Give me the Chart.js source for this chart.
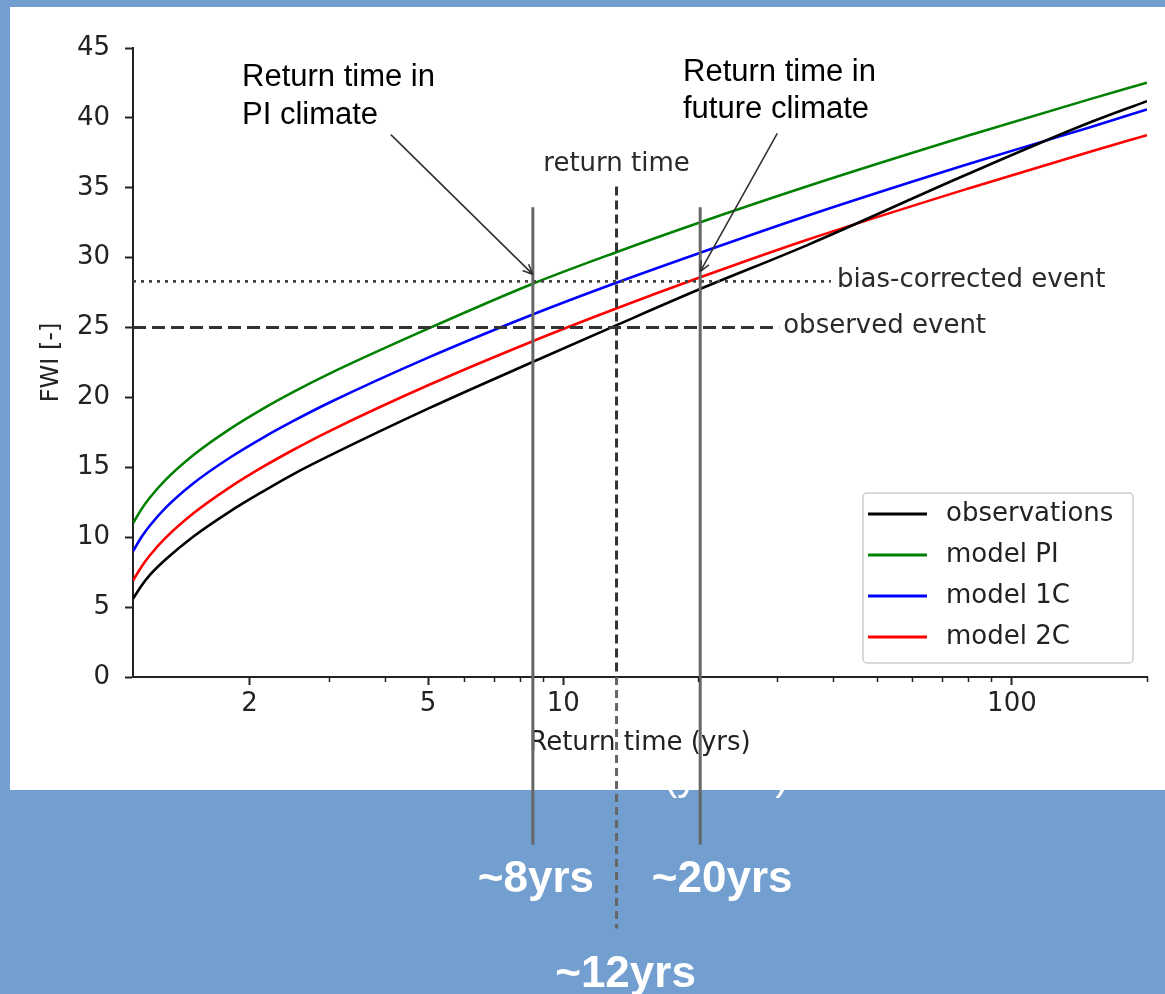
<!DOCTYPE html>
<html>
<head>
<meta charset="utf-8">
<script src="https://cdn.jsdelivr.net/npm/chart.js@4.4.1/dist/chart.umd.min.js"></script>
<style>
  html, body { margin: 0; padding: 0; background: #729fcf; }
  canvas { display: block; }
</style>
</head>
<body>
<canvas id="fwiChart" width="1165" height="994"></canvas>
<script>
const returnTimes = [1.1, 1.15, 1.2, 1.3, 1.5, 1.8, 2.15, 2.5, 3, 5, 8.5, 13, 20, 35, 80, 150, 200];
const observations = [5.6, 6.55, 7.3, 8.4, 10.05, 11.8, 13.3, 14.5, 15.8, 19.2, 22.5, 25.1, 27.7, 30.9, 36.0, 39.7, 41.2];
const modelPI = [11.0, 12.03, 12.84, 14.1, 15.88, 17.7, 19.22, 20.38, 21.67, 24.92, 28.1, 30.34, 32.48, 35.11, 38.74, 41.36, 42.52];
const model1C = [9.0, 10.03, 10.84, 12.1, 13.86, 15.65, 17.15, 18.3, 19.6, 22.85, 25.9, 28.15, 30.3, 33.0, 36.7, 39.35, 40.6];
const model2C = [6.9, 7.91, 8.71, 9.95, 11.71, 13.53, 15.06, 16.24, 17.56, 20.87, 23.99, 26.31, 28.54, 31.28, 34.95, 37.6, 38.76];

const xTicks = [2, 5, 10, 100];
const xMinorTicks = [3, 4, 6, 7, 8, 9, 20, 30, 40, 50, 60, 70, 80, 90, 200];
const yTicks = [0, 5, 10, 15, 20, 25, 30, 35, 40, 45];

// event levels and return times marked on the figure
const observedEvent = 25.0;
const biasCorrectedEvent = 28.3;
const observedLineEnd = 30.3;
const biasLineEnd = 39.5;
const rtPI = 8.56;
const rtObs = 13.15;
const rtFuture = 20.2;

const FONT = "'DejaVu Sans', sans-serif";
const ARIAL = "'Liberation Sans', Arial, sans-serif";

const curve = (label, values, color) => ({
  label,
  data: returnTimes.map((t, i) => ({ x: t, y: values[i] })),
  borderColor: color,
  borderWidth: 2.6,
  pointRadius: 0,
  cubicInterpolationMode: "monotone",
  order: 2,
  inLegend: true,
});

const guide = (x0, y0, x1, y1, color, width, dash, order) => ({
  data: [{ x: x0, y: y0 }, { x: x1, y: y1 }],
  borderColor: color,
  borderWidth: width,
  borderDash: dash,
  pointRadius: 0,
  clip: false,
  order,
});

function arrow(ctx, x0, y0, x1, y1) {
  const ang = Math.atan2(y1 - y0, x1 - x0);
  ctx.beginPath();
  ctx.moveTo(x0, y0);
  ctx.lineTo(x1, y1);
  for (const s of [-1, 1]) {
    ctx.moveTo(x1, y1);
    ctx.lineTo(x1 - 11 * Math.cos(ang + s * 0.4), y1 - 11 * Math.sin(ang + s * 0.4));
  }
  ctx.stroke();
}

const decorations = {
  id: "decorations",
  beforeDraw(chart) {
    const ctx = chart.ctx;
    ctx.save();
    ctx.fillStyle = "#729fcf";
    ctx.fillRect(0, 0, chart.width, chart.height);
    // leftover white caption peeking under the panel
    ctx.fillStyle = "#fff";
    ctx.font = `40px ${ARIAL}`;
    ctx.textBaseline = "alphabetic";
    ctx.fillText("(years)", 664, 790);
    ctx.fillRect(10, 7, chart.width - 10, 783);
    ctx.restore();
  },
  afterDraw(chart) {
    const { ctx, chartArea } = chart;
    const xs = chart.scales.x, ys = chart.scales.y;
    ctx.save();

    // minor ticks on the log axis
    ctx.strokeStyle = "#222";
    ctx.lineWidth = 1.5;
    xMinorTicks.forEach((v) => {
      const px = Math.round(xs.getPixelForValue(v)) + 0.5;
      ctx.beginPath();
      ctx.moveTo(px, chartArea.bottom);
      ctx.lineTo(px, chartArea.bottom + 5);
      ctx.stroke();
    });

    // small labels from the plot
    ctx.fillStyle = "#2a2a2a";
    ctx.font = `26px ${FONT}`;
    ctx.textBaseline = "middle";
    ctx.textAlign = "center";
    ctx.fillText("return time", xs.getPixelForValue(rtObs), 164);
    ctx.textAlign = "left";
    ctx.fillText("bias-corrected event", xs.getPixelForValue(biasLineEnd) + 6, ys.getPixelForValue(biasCorrectedEvent) - 1);
    ctx.fillText("observed event", xs.getPixelForValue(observedLineEnd) + 4, ys.getPixelForValue(observedEvent) - 1);

    // callouts
    ctx.fillStyle = "#000";
    ctx.font = `31px ${ARIAL}`;
    ctx.textBaseline = "alphabetic";
    ctx.fillText("Return time in", 242, 86);
    ctx.fillText("PI climate", 242, 124);
    ctx.fillText("Return time in", 683, 81);
    ctx.fillText("future climate", 683, 118);

    ctx.strokeStyle = "#333";
    ctx.lineWidth = 1.6;
    arrow(ctx, xs.getPixelForValue(4.13), ys.getPixelForValue(38.8), xs.getPixelForValue(rtPI), ys.getPixelForValue(28.8));
    arrow(ctx, xs.getPixelForValue(30), ys.getPixelForValue(38.9), xs.getPixelForValue(rtFuture), ys.getPixelForValue(29.0));

    // legend
    const items = chart.data.datasets.filter((d) => d.inLegend);
    const bx = chartArea.right - 284, by = chartArea.bottom - 184, bw = 270, bh = 170;
    ctx.fillStyle = "rgba(255,255,255,0.85)";
    ctx.strokeStyle = "#cccccc";
    ctx.lineWidth = 1.5;
    ctx.beginPath();
    ctx.roundRect(bx, by, bw, bh, 4);
    ctx.fill();
    ctx.stroke();
    ctx.font = `26px ${FONT}`;
    ctx.textBaseline = "middle";
    items.forEach((d, i) => {
      const ry = by + 21 + i * 41;
      ctx.strokeStyle = d.borderColor;
      ctx.lineWidth = 3;
      ctx.beginPath();
      ctx.moveTo(bx + 5, ry);
      ctx.lineTo(bx + 64, ry);
      ctx.stroke();
      ctx.fillStyle = "#222";
      ctx.fillText(d.label, bx + 83, ry);
    });

    // white captions under the chart
    ctx.fillStyle = "#fff";
    ctx.font = `bold 44px ${ARIAL}`;
    ctx.textAlign = "center";
    ctx.textBaseline = "alphabetic";
    ctx.fillText("~8yrs", xs.getPixelForValue(rtPI) + 3, 892);
    ctx.fillText("~20yrs", xs.getPixelForValue(rtFuture) + 22, 892);
    ctx.fillText("~12yrs", xs.getPixelForValue(rtObs) + 9, 987);
    ctx.restore();
  },
};

new Chart(document.getElementById("fwiChart"), {
  type: "line",
  data: {
    datasets: [
      curve("observations", observations, "#000000"),
      curve("model PI", modelPI, "#008000"),
      curve("model 1C", model1C, "#0000ff"),
      curve("model 2C", model2C, "#ff0000"),
      guide(1.1, biasCorrectedEvent, biasLineEnd, biasCorrectedEvent, "#444", 2.8, [3, 5], 1),
      guide(1.1, observedEvent, observedLineEnd, observedEvent, "#333", 3, [13, 6], 1),
      guide(rtObs, 35.1, rtObs, 0, "#333", 3, [9, 5], 0),
      guide(rtObs, 0, rtObs, -18, "#666", 3, [8, 5], 0),
      guide(rtPI, 33.6, rtPI, -12, "#666", 3, [], 0),
      guide(rtFuture, 33.6, rtFuture, -12, "#666", 3, [], 0),
    ],
  },
  options: {
    responsive: false,
    animation: false,
    devicePixelRatio: 1,
    layout: { padding: { left: 20, top: 48, right: 18, bottom: 200 } },
    plugins: { legend: { display: false }, tooltip: { enabled: false } },
    scales: {
      x: {
        type: "logarithmic",
        min: 1.1,
        max: 200,
        afterBuildTicks: (s) => { s.ticks = xTicks.map((v) => ({ value: v })); },
        afterFit: (s) => { s.height = 117; },
        ticks: {
          callback: (v) => String(v),
          autoSkip: false,
          maxRotation: 0,
          color: "#222",
          padding: 4,
          font: { family: FONT, size: 26 },
        },
        grid: { drawOnChartArea: false, tickLength: 8, tickWidth: 2, tickColor: "#222" },
        border: { color: "#222", width: 2 },
        title: {
          display: true,
          text: "Return time (yrs)",
          color: "#222",
          font: { family: FONT, size: 26 },
          padding: { top: 0, bottom: 35 },
        },
      },
      y: {
        min: 0,
        max: 45,
        afterBuildTicks: (s) => { s.ticks = yTicks.map((v) => ({ value: v })); },
        afterFit: (s) => { s.width = 113; },
        ticks: { color: "#222", padding: 15, font: { family: FONT, size: 26 } },
        grid: { drawOnChartArea: false, tickLength: 8, tickWidth: 2, tickColor: "#222" },
        border: { color: "#222", width: 2 },
        title: {
          display: true,
          text: "FWI [-]",
          color: "#222",
          font: { family: FONT, size: 24 },
          padding: { top: 17, bottom: 0 },
        },
      },
    },
  },
  plugins: [decorations],
});
</script>
</body>
</html>
